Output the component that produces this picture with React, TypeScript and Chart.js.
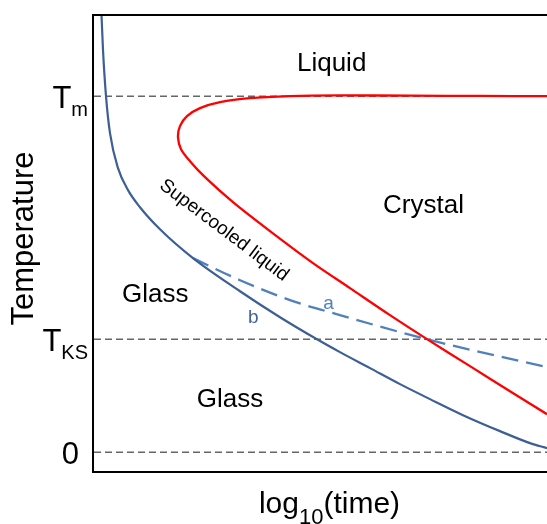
import { useEffect, useRef } from "react"
import { Chart, registerables } from "chart.js"

// Register Chart.js components
Chart.register(...registerables)

// x: log10(time), y: temperature (0 = absolute zero, 100 = Tm), schematic units
const xMin = 0
const xMax = 100
const yMin = -5.3
const yMax = 122.8

const yTickValues = [100, 31.7, 0]
const yTickMain = ["T", "T", "0"]
const yTickSub = ["m", "KS", ""]

// glass transition curve "b" (solid blue)
const glassX = [1.66, 1.99, 2.65, 3.53, 5.3, 7.51, 10.15, 14.57, 21.85, 32.23, 41.06, 49.23, 54.3, 60.93, 67.55, 74.17, 81.46, 89.62, 96.25, 100]
const glassY = [122.75, 112.9, 100.0, 89.6, 79.8, 73.6, 68.8, 62.6, 54.5, 45.2, 37.9, 31.7, 28.09, 23.6, 19.1, 14.89, 10.39, 5.9, 2.53, 1.12]

// slower route "a" (dashed blue)
const branchX = [21.85, 32.23, 43.27, 54.3, 73.51, 100]
const branchY = [54.5, 48.3, 42.7, 38.5, 31.7, 23.9]

// crystallisation C-curve (red), from the top right round the nose to the bottom right
const crystalX = [100, 85.21, 69.76, 54.3, 43.27, 34.44, 27.81, 23.4, 20.53, 18.98, 18.54, 19.21, 21.19, 24.5, 30.68, 38.85, 48.34, 56.51, 65.34, 73.51, 83.0, 91.83, 100]
const crystalY = [100, 100.06, 100.14, 100.2, 100, 99.44, 98.31, 96.63, 94.38, 91.57, 88.48, 85.11, 81.74, 77.25, 70.22, 62.08, 53.09, 46.07, 38.48, 31.74, 24.16, 17.13, 10.67]

const regionLabels = ["Liquid", "Crystal", "Glass", "Glass"]
const branchLabels = ["a", "b"]

const FONT = "'Liberation Sans', Arial, sans-serif"

const toPoints = (xs: number[], ys: number[]) => xs.map((x, i) => ({ x, y: ys[i] }))

const overlay = {
  id: "overlay",
  afterDraw(chart: any) {
    const { ctx, chartArea, scales } = chart
    const xs = scales.x
    const ys = scales.y
    const { left, right, top, bottom } = chartArea
    ctx.save()

    // frame: top, left, bottom (no right edge)
    ctx.strokeStyle = "#000"
    ctx.lineWidth = 2
    ctx.beginPath()
    ctx.moveTo(right, top)
    ctx.lineTo(left - 1, top)
    ctx.lineTo(left - 1, bottom + 1)
    ctx.lineTo(right, bottom + 1)
    ctx.stroke()

    // y tick labels with subscripts
    ctx.fillStyle = "#000"
    ctx.textBaseline = "alphabetic"
    yTickValues.forEach((v, i) => {
      const py = ys.getPixelForValue(v)
      const main = yTickMain[i]
      const sub = yTickSub[i]
      ctx.font = `31px ${FONT}`
      const mw = ctx.measureText(main).width
      ctx.font = `20px ${FONT}`
      const sw = sub ? ctx.measureText(sub).width : 0
      const rightEdge = left - (sub ? 6 : 15)
      const x0 = rightEdge - mw - sw
      ctx.textAlign = "left"
      ctx.font = `31px ${FONT}`
      ctx.fillText(main, x0, py + 11.5)
      if (sub) {
        ctx.font = `20px ${FONT}`
        ctx.fillText(sub, x0 + mw, py + 19.5)
      }
    })

    // y title
    ctx.save()
    ctx.font = `31px ${FONT}`
    ctx.translate(33, (top + bottom) / 2 - 4.5)
    ctx.rotate(-Math.PI / 2)
    ctx.textAlign = "center"
    ctx.fillText("Temperature", 0, 0)
    ctx.restore()

    // x title: log10(time)
    ctx.font = `30px ${FONT}`
    const w1 = ctx.measureText("log").width
    const w3 = ctx.measureText("(time)").width
    ctx.font = `22px ${FONT}`
    const w2 = ctx.measureText("10").width
    const tx = (left + right) / 2 + 9 - (w1 + w2 + w3) / 2
    const tb = bottom + 42
    ctx.textAlign = "left"
    ctx.font = `30px ${FONT}`
    ctx.fillText("log", tx, tb)
    ctx.fillText("(time)", tx + w1 + w2, tb)
    ctx.font = `22px ${FONT}`
    ctx.fillText("10", tx + w1, tb + 11)

    // region labels
    const regionAt = [
      [44.8, 107.0],
      [63.8, 67.1],
      [6.2, 42.1],
      [22.7, 12.6],
    ]
    ctx.font = `26px ${FONT}`
    regionLabels.forEach((t, i) => {
      ctx.fillText(t, xs.getPixelForValue(regionAt[i][0]), ys.getPixelForValue(regionAt[i][1]))
    })

    // branch labels a / b
    const branchAt = [
      [50.6, 40.2],
      [34.0, 36.2],
    ]
    const branchColors = ["#4f81bd", "#41649c"]
    ctx.font = `19px ${FONT}`
    branchLabels.forEach((t, i) => {
      ctx.fillStyle = branchColors[i]
      ctx.fillText(t, xs.getPixelForValue(branchAt[i][0]), ys.getPixelForValue(branchAt[i][1]))
    })

    // rotated "Supercooled liquid"
    ctx.save()
    ctx.fillStyle = "#000"
    ctx.font = `19px ${FONT}`
    ctx.translate(xs.getPixelForValue(28.7), ys.getPixelForValue(62.3))
    ctx.rotate((37 * Math.PI) / 180)
    ctx.textAlign = "center"
    ctx.textBaseline = "middle"
    ctx.fillText("Supercooled liquid", 0, 0)
    ctx.restore()

    ctx.restore()
  },
}

export default function App() {
  const chartRef = useRef<HTMLCanvasElement>(null)
  const chartInstance = useRef<Chart | null>(null)

  useEffect(() => {
    document.body.style.margin = "0"
    if (!chartRef.current) return
    if (chartInstance.current) chartInstance.current.destroy()
    const ctx = chartRef.current.getContext("2d")
    if (!ctx) return

    const hline = (v: number) => ({
      data: [
        { x: xMin, y: v },
        { x: xMax, y: v },
      ],
      borderColor: "#666666",
      borderWidth: 1.5,
      borderDash: [7, 4],
      pointRadius: 0,
      showLine: true,
      tension: 0,
    })

    chartInstance.current = new Chart(ctx, {
      type: "scatter",
      data: {
        datasets: [
          {
            data: toPoints(crystalX, crystalY),
            borderColor: "#ff0000",
            borderWidth: 2.3,
            pointRadius: 0,
            showLine: true,
            tension: 0.3,
          },
          {
            data: toPoints(glassX, glassY),
            borderColor: "#3d5f96",
            borderWidth: 2.2,
            pointRadius: 0,
            showLine: true,
            cubicInterpolationMode: "monotone",
          },
          {
            data: toPoints(branchX, branchY),
            borderColor: "#4f81bd",
            borderWidth: 2.3,
            borderDash: [17, 8],
            pointRadius: 0,
            showLine: true,
            cubicInterpolationMode: "monotone",
          },
          ...yTickValues.map(hline),
        ] as any,
      },
      options: {
        animation: false,
        responsive: true,
        maintainAspectRatio: false,
        events: [],
        layout: { padding: { top: 15, right: 0, bottom: 0, left: 0 } },
        plugins: { legend: { display: false }, tooltip: { enabled: false } },
        scales: {
          x: {
            type: "linear",
            min: xMin,
            max: xMax,
            grid: { display: false, drawTicks: false },
            ticks: { display: false },
            border: { display: false },
            afterFit: (s: any) => {
              s.height = 53
            },
          },
          y: {
            type: "linear",
            min: yMin,
            max: yMax,
            grid: { display: false, drawTicks: false },
            ticks: { display: false },
            border: { display: false },
            afterFit: (s: any) => {
              s.width = 94
            },
          },
        },
      },
      plugins: [overlay],
    })

    return () => {
      if (chartInstance.current) {
        chartInstance.current.destroy()
        chartInstance.current = null
      }
    }
  }, [])

  return (
    <div style={{ width: 547, height: 524, position: "relative", background: "#fff" }}>
      <canvas ref={chartRef} />
    </div>
  )
}
